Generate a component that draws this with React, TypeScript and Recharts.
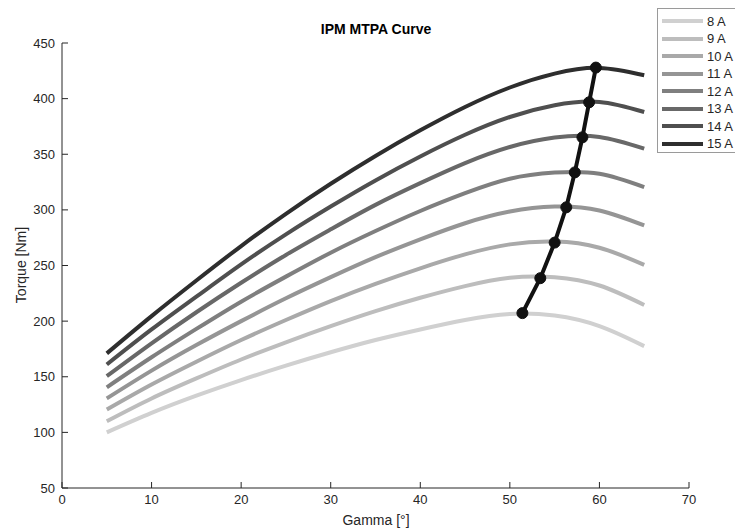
import { Line, LineChart, XAxis, YAxis } from "recharts";

const gamma = [5, 10, 15, 20, 25, 30, 35, 40, 45, 50, 55, 60, 65];
const currentLabels = ["8 A", "9 A", "10 A", "11 A", "12 A", "13 A", "14 A", "15 A"];

const torque8A = [100, 117.5, 133, 147, 160, 172, 183, 192.5, 201, 206.5, 205, 195.5, 177.5];
const torque9A = [110, 130.5, 148.5, 165.5, 181, 195.5, 209, 221, 231.5, 239, 239.5, 232, 214.5];
const torque10A = [120.5, 143, 163.5, 183, 201, 218, 233.5, 247.5, 260, 269, 271.5, 266, 250.5];
const torque11A = [130.5, 155.5, 178.5, 200, 220.5, 239.5, 257.5, 273.5, 288, 298.5, 303, 299.5, 286];
const torque12A = [140.5, 167.5, 193, 217.5, 240, 261.5, 281, 299, 315, 328, 333.5, 332.5, 320.5];
const torque13A = [150.5, 180, 208, 234.5, 259.5, 282.5, 304.5, 324, 342, 356.5, 365, 365.5, 355];
const torque14A = [161, 192.5, 222, 251, 278, 303, 326.5, 348, 367.5, 383.5, 394, 397, 388];
const torque15A = [171, 204.5, 236.5, 267.5, 296.5, 323.5, 348.5, 371.5, 392.5, 410, 422.5, 427.6, 421];

const torqueSeries = [torque8A, torque9A, torque10A, torque11A, torque12A, torque13A, torque14A, torque15A];

const mtpaGamma = [51.4, 53.4, 55.0, 56.3, 57.25, 58.1, 58.85, 59.6];
const mtpaTorque = [207.2, 238.6, 270.6, 302.3, 333.7, 365.2, 396.7, 427.9];

const xTicks = [0, 10, 20, 30, 40, 50, 60, 70];
const yTicks = [50, 100, 150, 200, 250, 300, 350, 400, 450];

const lineColors = ["#d0d0d0", "#bdbdbd", "#a9a9a9", "#959595", "#7f7f7f", "#686868", "#4f4f4f", "#2e2e2e"];
const font = "'Liberation Sans', Arial, Helvetica, sans-serif";
const ink = "#262626";

const curveData = torqueSeries.map((values) => values.map((t, i) => ({ gamma: gamma[i], torque: t })));
const mtpaData = mtpaGamma.map((g, i) => ({ gamma: g, torque: mtpaTorque[i] }));

export default function App() {
  return (
    <div style={{ position: "absolute", left: 0, top: 0, width: 735, height: 532, background: "#fff", fontFamily: font }}>
      <LineChart width={735} height={532} margin={{ top: 43, right: 46, bottom: 0, left: 0 }}>
        <XAxis
          type="number"
          dataKey="gamma"
          domain={[0, 70]}
          ticks={xTicks}
          interval={0}
          height={44}
          tickSize={-6}
          tickMargin={13}
          axisLine={{ stroke: ink }}
          tickLine={{ stroke: ink }}
          tick={{ fill: ink, fontSize: 13, fontFamily: font }}
          allowDuplicatedCategory={false}
        />
        <YAxis
          type="number"
          dataKey="torque"
          domain={[50, 450]}
          ticks={yTicks}
          interval={0}
          width={62}
          tickSize={-6}
          tickMargin={13}
          axisLine={{ stroke: ink }}
          tickLine={{ stroke: ink }}
          tick={{ fill: ink, fontSize: 13, fontFamily: font }}
        />
        {curveData.map((d, k) => (
          <Line
            key={currentLabels[k]}
            data={d}
            dataKey="torque"
            name={currentLabels[k]}
            type="natural"
            stroke={lineColors[k]}
            strokeWidth={4}
            dot={false}
            activeDot={false}
            isAnimationActive={false}
          />
        ))}
        <Line
          data={mtpaData}
          dataKey="torque"
          name="MTPA"
          type="linear"
          stroke="#111"
          strokeWidth={4}
          dot={{ r: 5.5, fill: "#111", stroke: "#111", strokeWidth: 1 }}
          activeDot={false}
          isAnimationActive={false}
        />
      </LineChart>

      <div style={{ position: "absolute", left: 376, top: 21, transform: "translateX(-50%)", fontSize: 14, fontWeight: "bold", color: "#000", whiteSpace: "nowrap" }}>
        IPM MTPA Curve
      </div>
      <div style={{ position: "absolute", left: 376, top: 512, transform: "translateX(-50%)", fontSize: 14, color: ink, whiteSpace: "nowrap" }}>
        Gamma [°]
      </div>
      <div style={{ position: "absolute", left: 21, top: 265, transform: "translate(-50%, -50%) rotate(-90deg)", fontSize: 14, color: ink, whiteSpace: "nowrap" }}>
        Torque [Nm]
      </div>

      <div style={{ position: "absolute", left: 657, top: 8, width: 90, height: 145, border: "1px solid #9a9a9a", background: "#fff", boxSizing: "border-box" }}>
        {currentLabels.map((label, k) => (
          <div key={label} style={{ position: "absolute", left: 4, top: 4 + k * 17.5, height: 16, display: "flex", alignItems: "center" }}>
            <div style={{ width: 41, height: 4, background: lineColors[k] }} />
            <span style={{ marginLeft: 4, fontSize: 13, color: ink }}>{label}</span>
          </div>
        ))}
      </div>
    </div>
  );
}
